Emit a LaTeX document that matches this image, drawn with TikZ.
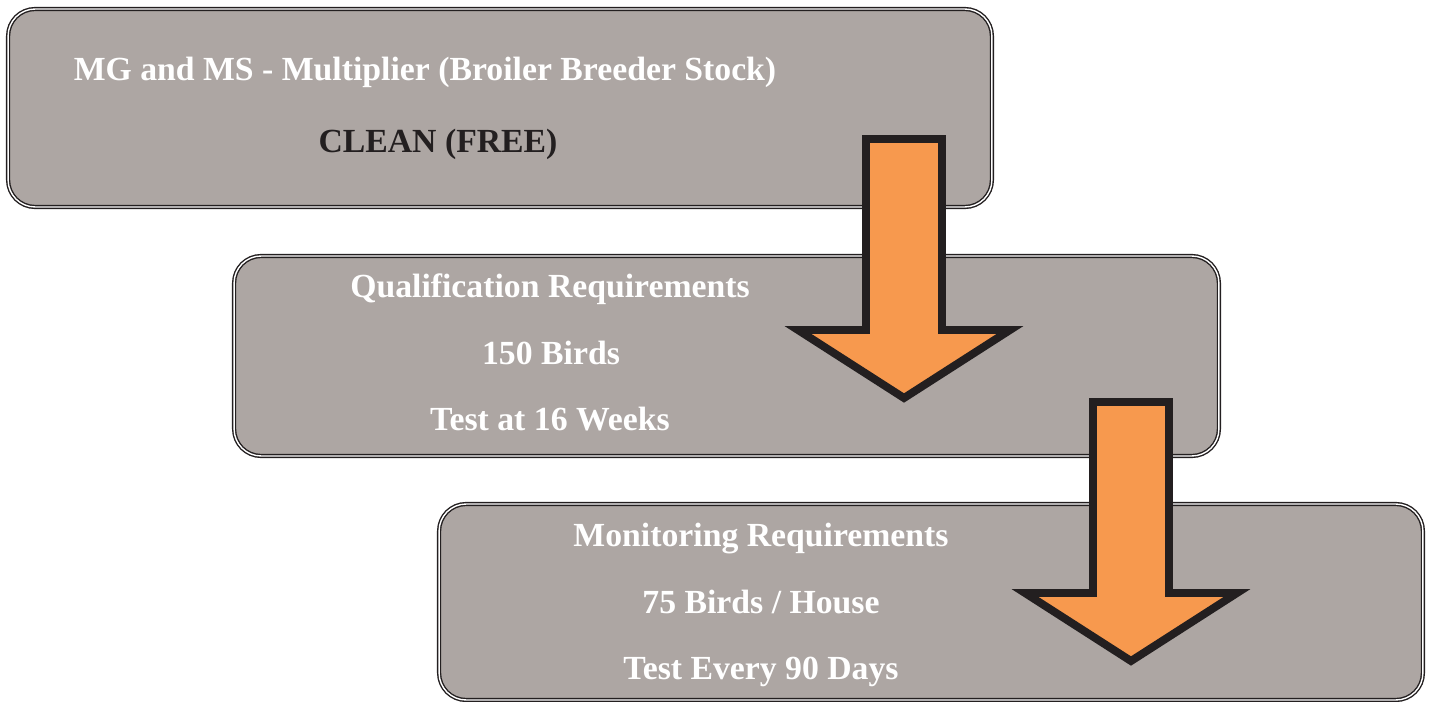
\documentclass[tikz,border=0pt]{standalone}
\usepackage{fontspec}
\setmainfont{Liberation Serif}
\usepackage{tikz}
\usetikzlibrary{positioning}
\definecolor{boxgray}{RGB}{173,166,163}
\definecolor{droporange}{RGB}{247,153,78}
\definecolor{inkblack}{RGB}{35,31,32}

\begin{document}
\begin{tikzpicture}[
    x=0.02cm, y=-0.02cm,
    stage/.style={draw=inkblack, double=white, double distance=0.8pt, line width=0.8pt, fill=boxgray, rounded corners=0.54cm},
    label/.style={anchor=base, font=\fontsize{19.2}{23}\selectfont\bfseries, text=white, inner sep=0pt},
    blockarrow/.style={draw=inkblack, fill=droporange, line width=4.5pt, line join=miter},
]
\useasboundingbox (0,0) rectangle (1434,702);

% ─────────────────────────────────────────
% Stage boxes
% ─────────────────────────────────────────
\node[stage, minimum width=19.68cm, minimum height=3.96cm] (multiplier) at (500,108) {};
\node[stage, minimum width=19.70cm, minimum height=4.00cm] (qualification) at (726.5,356) {};
\node[stage, minimum width=19.68cm, minimum height=3.92cm] (monitoring) at (931,602) {};

% ─────────────────────────────────────────
% Texts
% ─────────────────────────────────────────
\node[label] (mgms) at (425,81) {MG and MS - Multiplier (Broiler Breeder Stock)};
\node[label, text=inkblack] (clean) at (438,153) {CLEAN (FREE)};

\node[label] (qualhead) at (550,298) {Qualification Requirements};
\node[label] (qualbirds) at (551,365) {150 Birds};
\node[label] (qualtest) at (550,431) {Test at 16 Weeks};

\node[label] (monhead) at (761,546) {Monitoring Requirements};
\node[label] (monbirds) at (761,613) {75 Birds / House};
\node[label] (montest) at (761,679) {Test Every 90 Days};

% ─────────────────────────────────────────
% Down arrows
% ─────────────────────────────────────────
\coordinate (drop1) at (904,139);
\coordinate (drop2) at (1131,402);

\draw[blockarrow] (drop1) ++(-38,0) -- ++(76,0) -- ++(0,191) -- ++(68,0) -- ++(-106,68) -- ++(-106,-68) -- ++(68,0) -- cycle;
\draw[blockarrow] (drop2) ++(-38,0) -- ++(76,0) -- ++(0,191) -- ++(68,0) -- ++(-106,68) -- ++(-106,-68) -- ++(68,0) -- cycle;

\end{tikzpicture}
\end{document}
